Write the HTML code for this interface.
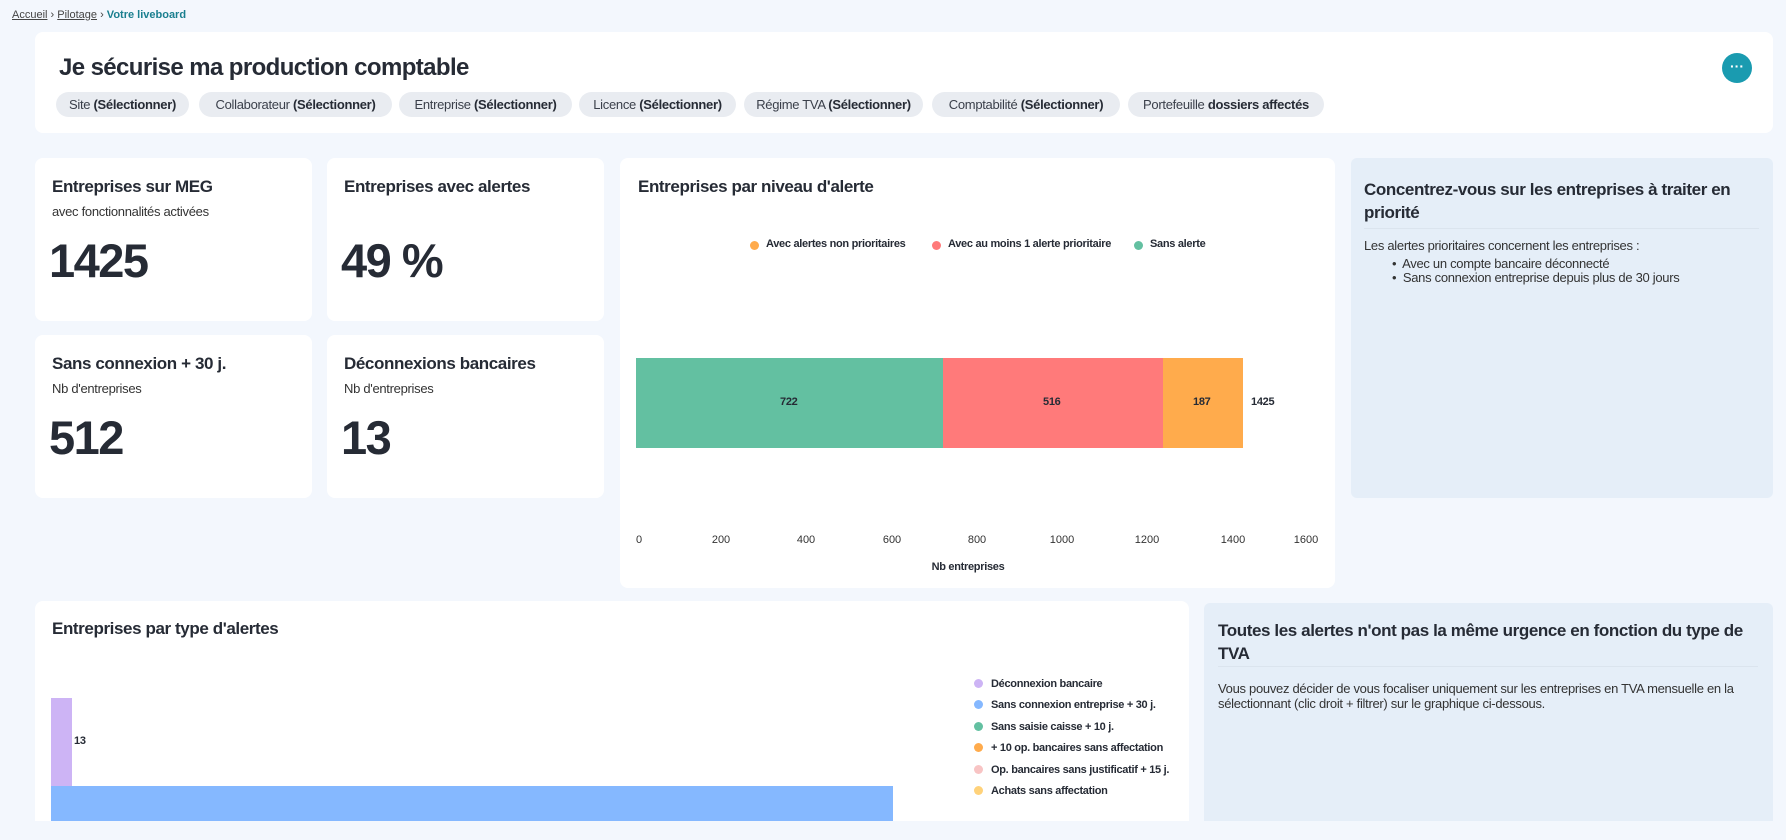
<!DOCTYPE html>
<html><head><meta charset="utf-8"><style>
*{margin:0;padding:0;box-sizing:border-box}
body{width:1786px;height:840px;overflow:hidden;background:#f3f7fd;font-family:"Liberation Sans",sans-serif;color:#262b35;position:relative}
.a{position:absolute;white-space:nowrap}
.card{position:absolute;background:#fff;border-radius:8px}
.info{position:absolute;background:#e5eef8;border-radius:6px}
.chip{position:absolute;top:92px;height:25px;background:#e9ecf1;border-radius:13px;font-size:13px;line-height:25px;text-align:center;color:#3a3f4a;letter-spacing:-0.3px}
.chip b{color:#262b35}
.kt{font-size:17px;font-weight:bold;letter-spacing:-0.4px}
.ks{font-size:13px;letter-spacing:-0.3px;color:#333}
.kn{font-size:47px;font-weight:bold;letter-spacing:-1.5px;color:#262b35}
.tick{position:absolute;top:534px;font-size:11px;color:#333;transform:translateX(-50%)}
.lg{font-size:11px;font-weight:bold;letter-spacing:-0.3px}
.dot{position:absolute;width:9px;height:9px;border-radius:50%}
</style></head><body>
<div class="a" style="left:12px;top:9px;font-size:11px;color:#444"><u>Accueil</u> › <u>Pilotage</u> › <b style="color:#1a7f8f">Votre liveboard</b></div>

<div class="card" style="left:35px;top:32px;width:1738px;height:101px"></div>
<div class="a" style="left:59px;top:54px;font-size:24px;font-weight:bold;letter-spacing:-0.6px">Je sécurise ma production comptable</div>
<div class="chip" style="left:56px;width:133px">Site <b>(Sélectionner)</b></div>
<div class="chip" style="left:199px;width:193px">Collaborateur <b>(Sélectionner)</b></div>
<div class="chip" style="left:399px;width:173px">Entreprise <b>(Sélectionner)</b></div>
<div class="chip" style="left:579px;width:157px">Licence <b>(Sélectionner)</b></div>
<div class="chip" style="left:744px;width:179px">Régime TVA <b>(Sélectionner)</b></div>
<div class="chip" style="left:932px;width:188px">Comptabilité <b>(Sélectionner)</b></div>
<div class="chip" style="left:1128px;width:196px">Portefeuille <b>dossiers affectés</b></div>
<div class="a" style="left:1722px;top:53px;width:30px;height:30px;border-radius:50%;background:#1a9bb0;color:#fff;text-align:center;font-size:14px;line-height:26px;font-weight:bold">···</div>

<div class="card" style="left:35px;top:158px;width:277px;height:163px"></div>
<div class="a kt" style="left:52px;top:177px">Entreprises sur MEG</div>
<div class="a ks" style="left:52px;top:204px">avec fonctionnalités activées</div>
<div class="a kn" style="left:49px;top:233px">1425</div>
<div class="card" style="left:327px;top:158px;width:277px;height:163px"></div>
<div class="a kt" style="left:344px;top:177px">Entreprises avec alertes</div>
<div class="a kn" style="left:341px;top:233px">49 %</div>
<div class="card" style="left:35px;top:335px;width:277px;height:163px"></div>
<div class="a kt" style="left:52px;top:354px">Sans connexion + 30 j.</div>
<div class="a ks" style="left:52px;top:381px">Nb d'entreprises</div>
<div class="a kn" style="left:49px;top:410px">512</div>
<div class="card" style="left:327px;top:335px;width:277px;height:163px"></div>
<div class="a kt" style="left:344px;top:354px">Déconnexions bancaires</div>
<div class="a ks" style="left:344px;top:381px">Nb d'entreprises</div>
<div class="a kn" style="left:341px;top:410px">13</div>

<div class="card" style="left:620px;top:158px;width:715px;height:430px"></div>
<div class="a kt" style="left:638px;top:177px">Entreprises par niveau d'alerte</div>
<div class="dot" style="left:750px;top:241px;background:#ffab4c"></div><div class="a lg" style="left:766px;top:238px">Avec alertes non prioritaires</div>
<div class="dot" style="left:932px;top:241px;background:#ff7a7a"></div><div class="a lg" style="left:948px;top:238px">Avec au moins 1 alerte prioritaire</div>
<div class="dot" style="left:1134px;top:241px;background:#63c0a1"></div><div class="a lg" style="left:1150px;top:238px">Sans alerte</div>
<div class="a" style="left:636px;top:358px;width:307px;height:90px;background:#63c0a1"></div>
<div class="a" style="left:943px;top:358px;width:220px;height:90px;background:#ff7a7a"></div>
<div class="a" style="left:1163px;top:358px;width:80px;height:90px;background:#ffab4c"></div>
<div class="a lg" style="left:780px;top:396px">722</div>
<div class="a lg" style="left:1043px;top:396px">516</div>
<div class="a lg" style="left:1193px;top:396px">187</div>
<div class="a lg" style="left:1251px;top:396px">1425</div>
<div class="tick" style="left:639px">0</div><div class="tick" style="left:721px">200</div><div class="tick" style="left:806px">400</div><div class="tick" style="left:892px">600</div><div class="tick" style="left:977px">800</div><div class="tick" style="left:1062px">1000</div><div class="tick" style="left:1147px">1200</div><div class="tick" style="left:1233px">1400</div><div class="tick" style="left:1306px">1600</div>
<div class="a lg" style="left:968px;top:561px;transform:translateX(-50%);font-size:11px">Nb entreprises</div>

<div class="info" style="left:1351px;top:158px;width:422px;height:340px"></div>
<div class="a kt" style="left:1364px;top:178px;line-height:23px;white-space:normal;width:400px">Concentrez-vous sur les entreprises à traiter en priorité</div>
<div class="a" style="left:1364px;top:228px;width:395px;height:1px;background:#dbe4ee"></div>
<div class="a ks" style="left:1364px;top:238px">Les alertes prioritaires concernent les entreprises :</div>
<div class="a ks" style="left:1392px;top:257px;line-height:14px">•&nbsp; Avec un compte bancaire déconnecté<br>•&nbsp; Sans connexion entreprise depuis plus de 30 jours</div>

<div class="a" style="left:35px;top:601px;width:1154px;height:220px;background:#fff;border-radius:8px 8px 0 0"></div>
<div class="a kt" style="left:52px;top:619px">Entreprises par type d'alertes</div>
<div class="a" style="left:51px;top:698px;width:21px;height:88px;background:#cdb4f5"></div>
<div class="a lg" style="left:74px;top:735px">13</div>
<div class="a" style="left:51px;top:786px;width:842px;height:35px;background:#85b8ff"></div>
<div class="dot" style="left:974px;top:679px;background:#cdb4f5"></div><div class="a lg" style="left:991px;top:678px">Déconnexion bancaire</div>
<div class="dot" style="left:974px;top:700px;background:#85b8ff"></div><div class="a lg" style="left:991px;top:699px">Sans connexion entreprise + 30 j.</div>
<div class="dot" style="left:974px;top:722px;background:#63c0a1"></div><div class="a lg" style="left:991px;top:721px">Sans saisie caisse + 10 j.</div>
<div class="dot" style="left:974px;top:743px;background:#ffab4c"></div><div class="a lg" style="left:991px;top:742px">+ 10 op. bancaires sans affectation</div>
<div class="dot" style="left:974px;top:765px;background:#f8c4c4"></div><div class="a lg" style="left:991px;top:764px">Op. bancaires sans justificatif + 15 j.</div>
<div class="dot" style="left:974px;top:786px;background:#ffd27a"></div><div class="a lg" style="left:991px;top:785px">Achats sans affectation</div>

<div class="a" style="left:1204px;top:603px;width:569px;height:218px;background:#e5eef8;border-radius:6px 6px 0 0"></div>
<div class="a kt" style="left:1218px;top:619px;line-height:23px;white-space:normal;width:545px">Toutes les alertes n'ont pas la même urgence en fonction du type de TVA</div>
<div class="a" style="left:1218px;top:666px;width:540px;height:1px;background:#dbe4ee"></div>
<div class="a ks" style="left:1218px;top:681px;line-height:15px;white-space:normal;width:550px">Vous pouvez décider de vous focaliser uniquement sur les entreprises en TVA mensuelle en la sélectionnant (clic droit + filtrer) sur le graphique ci-dessous.</div>
</body></html>
